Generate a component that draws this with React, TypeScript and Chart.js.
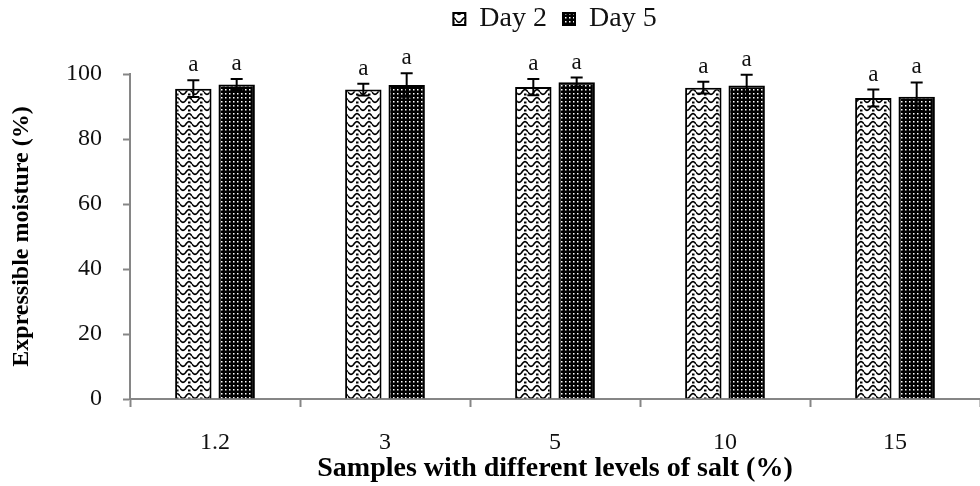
import React, { useEffect, useRef } from "react";
import { Chart, registerables } from "chart.js";

Chart.register(...registerables);

const categories = ["1.2", "3", "5", "10", "15"];
const day2Values = [95.5, 95.2, 96.0, 95.8, 92.6];
const day5Values = [96.8, 96.6, 97.5, 96.5, 93.0];
const day2Errors = [2.6, 1.8, 2.5, 1.8, 2.6];
const day5Errors = [1.7, 3.6, 1.4, 3.3, 4.4];
const day2Letters = ["a", "a", "a", "a", "a"];
const day5Letters = ["a", "a", "a", "a", "a"];
const seriesNames = ["Day 2", "Day 5"];
const yTicks = [0, 20, 40, 60, 80, 100];

const FONT = "'Liberation Serif', 'Times New Roman', serif";

function makeWavePattern(): CanvasPattern | string {
  const c = document.createElement("canvas");
  c.width = 12;
  c.height = 8;
  const ctx = c.getContext("2d");
  if (!ctx) return "#fff";
  ctx.fillStyle = "#fff";
  ctx.fillRect(0, 0, 12, 8);
  ctx.strokeStyle = "#000";
  ctx.lineWidth = 1.6;
  ctx.beginPath();
  for (let x = 0; x <= 12; x += 0.5) {
    const y = 4 + 2.4 * Math.sin((2 * Math.PI * x) / 12);
    if (x === 0) ctx.moveTo(x, y);
    else ctx.lineTo(x, y);
  }
  ctx.stroke();
  ctx.fillStyle = "#000";
  ctx.fillRect(8, 5.5, 2.5, 2);
  const p = ctx.createPattern(c, "repeat");
  return p || "#fff";
}

function makeDotPattern(): CanvasPattern | string {
  const c = document.createElement("canvas");
  c.width = 4;
  c.height = 4;
  const ctx = c.getContext("2d");
  if (!ctx) return "#000";
  ctx.fillStyle = "#000";
  ctx.fillRect(0, 0, 4, 4);
  ctx.fillStyle = "#fff";
  ctx.fillRect(1, 1, 1.5, 1.5);
  const p = ctx.createPattern(c, "repeat");
  return p || "#000";
}

const errorBarPlugin = {
  id: "errorBars",
  afterDatasetsDraw(chart: any) {
    const ctx = chart.ctx;
    const yScale = chart.scales.y;
    const errs = [day2Errors, day5Errors];
    const letters = [day2Letters, day5Letters];
    chart.data.datasets.forEach((ds: any, di: number) => {
      const meta = chart.getDatasetMeta(di);
      meta.data.forEach((bar: any, i: number) => {
        const v = ds.data[i];
        const e = errs[di][i];
        const x = bar.x;
        const yTop = yScale.getPixelForValue(v + e);
        const yBot = yScale.getPixelForValue(v - e);
        ctx.save();
        ctx.strokeStyle = "#000";
        ctx.lineWidth = 2;
        ctx.beginPath();
        ctx.moveTo(x, yTop);
        ctx.lineTo(x, yBot);
        ctx.moveTo(x - 6, yTop);
        ctx.lineTo(x + 6, yTop);
        ctx.moveTo(x - 6, yBot);
        ctx.lineTo(x + 6, yBot);
        ctx.stroke();
        ctx.fillStyle = "#111";
        ctx.font = `23px ${FONT}`;
        ctx.textAlign = "center";
        ctx.textBaseline = "alphabetic";
        ctx.fillText(letters[di][i], x, yTop - 9);
        ctx.restore();
      });
    });
  },
};

const LEGEND_PAD = 16;

const legendPadPlugin = {
  id: "legendPad",
  beforeInit(chart: any) {
    const legend = chart.legend;
    if (!legend) return;
    const orig = legend.fit;
    legend.fit = function () {
      orig.bind(legend)();
      this.height = 74;
    };
  },
  afterLayout(chart: any) {
    const legend = chart.legend;
    if (!legend) return;
    legend.left = chart.chartArea.left;
    legend.right = chart.chartArea.right;
    legend.top = 5 - LEGEND_PAD;
  },
};

export default function App() {
  const canvasRef = useRef<HTMLCanvasElement | null>(null);

  useEffect(() => {
    const canvas = canvasRef.current;
    if (!canvas) return;
    const wave = makeWavePattern();
    const dots = makeDotPattern();
    const chart = new Chart(canvas, {
      type: "bar",
      data: {
        labels: categories,
        datasets: [
          {
            label: seriesNames[0],
            data: day2Values,
            backgroundColor: wave as any,
            borderColor: "#000",
            borderWidth: 2,
            barPercentage: 0.84,
            categoryPercentage: 0.51,
          },
          {
            label: seriesNames[1],
            data: day5Values,
            backgroundColor: dots as any,
            borderColor: "#000",
            borderWidth: 2,
            barPercentage: 0.84,
            categoryPercentage: 0.51,
          },
        ],
      },
      options: {
        animation: false,
        responsive: true,
        maintainAspectRatio: false,
        layout: { padding: { left: 0, right: 0, top: 0, bottom: 0 } },
        plugins: {
          legend: {
            display: true,
            position: "top",
            labels: {
              font: { family: FONT, size: 28 },
              color: "#111",
              boxWidth: 12,
              boxHeight: 12,
              padding: LEGEND_PAD,
            },
          },
          tooltip: { enabled: false },
        },
        scales: {
          x: {
            offset: true,
            grid: {
              display: true,
              offset: true,
              drawOnChartArea: false,
              drawTicks: true,
              tickLength: 8,
              tickColor: "#868686",
              tickWidth: 2,
            },
            border: { display: true, color: "#868686", width: 2 },
            ticks: {
              font: { family: FONT, size: 24 },
              color: "#111",
              padding: 21,
            },
            title: {
              display: true,
              text: "Samples with different levels of salt (%)",
              font: { family: FONT, size: 28, weight: "bold" },
              color: "#000",
              padding: { top: 0, bottom: 0 },
            },
            afterFit(scale: any) {
              scale.height = 87;
            },
          },
          y: {
            min: 0,
            max: 100,
            afterBuildTicks(scale: any) {
              scale.ticks = yTicks.map((v) => ({ value: v }));
            },
            grid: {
              display: true,
              drawOnChartArea: false,
              drawTicks: true,
              tickLength: 7,
              tickColor: "#868686",
              tickWidth: 2,
            },
            border: { display: true, color: "#868686", width: 2 },
            ticks: {
              font: { family: FONT, size: 24 },
              color: "#111",
              padding: 21,
            },
            title: {
              display: true,
              text: "Expressible moisture (%)",
              font: { family: FONT, size: 24, weight: "bold" },
              color: "#000",
              padding: { top: 7.5, bottom: 0 },
            },
            afterFit(scale: any) {
              scale.width = 130;
            },
          },
        },
      },
      plugins: [errorBarPlugin, legendPadPlugin],
    });
    return () => chart.destroy();
  }, []);

  return (
    <div style={{ position: "absolute", left: 0, top: 0, width: 980, height: 486 }}>
      <canvas ref={canvasRef} />
    </div>
  );
}
